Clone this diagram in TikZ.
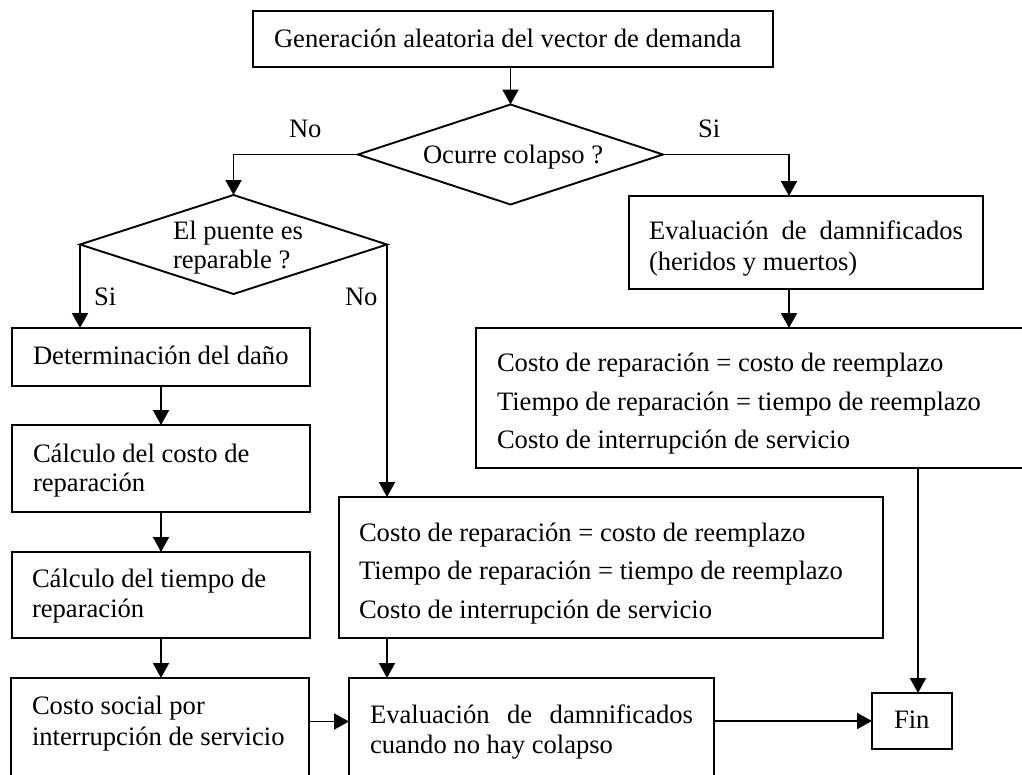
\documentclass[tikz,border=0pt]{standalone}
\usepackage{fontspec}
\setmainfont{Liberation Serif}
\usetikzlibrary{arrows.meta,shapes.geometric,fit,calc}
\begin{document}
\begin{tikzpicture}[x=1pt,y=-1pt,line width=1.9pt,
  box/.style={draw,rectangle,inner sep=0pt,outer sep=0pt},
  dia/.style={draw,diamond,inner sep=0pt,outer sep=0pt},
  txt/.style={inner sep=0pt,outer sep=0pt,anchor=base west,font=\fontsize{26.6}{32}\selectfont},
  arr/.style={-{Triangle[length=15pt,width=16pt]},line width=1.9pt}]
\useasboundingbox (0,0) rectangle (1022,774);
\clip (0,0) rectangle (1022,774);
\fill[white] (0,0) rectangle (1022,774);

% boxes
\node[box,fit={(253,11) (773,67)}] (gen) {};
\node[txt] (tgen) at (274,47) {Generación aleatoria del vector de demanda};

\node[dia,minimum width=305pt,minimum height=100pt] (col) at (510.5,154.5) {};
\node[txt] (tcol) at (423,163) {Ocurre colapso ?};
\node[txt] (lno1) at (289,137) {No};
\node[txt] (lsi1) at (698,137) {Si};

\node[dia,minimum width=307pt,minimum height=99pt] (rep) at (233.5,244.5) {};
\node[txt] (trep1) at (173,239) {El puente es};
\node[txt] (trep2) at (173,268) {reparable ?};
\node[txt] (lsi2) at (94,305) {Si};
\node[txt] (lno2) at (345,305) {No};

\node[box,fit={(629,196) (983,289)}] (dam) {};
\node[txt] (tdam1) at (649,239) {\makebox[314pt][s]{Evaluación de damnificados}};
\node[txt] (tdam2) at (649,270) {(heridos y muertos)};

\node[box,fit={(476,328) (1100,468)}] (rc) {};
\node[txt] (trc1) at (497,371) {Costo de reparación = costo de reemplazo};
\node[txt] (trc2) at (497,410) {Tiempo de reparación = tiempo de reemplazo};
\node[txt] (trc3) at (497,448) {Costo de interrupción de servicio};

\node[box,fit={(12,328) (310,386)}] (det) {};
\node[txt] (tdet) at (33,364) {Determinación del daño};

\node[box,fit={(12,425) (310,512)}] (cc) {};
\node[txt] (tcc1) at (33,462) {Cálculo del costo de};
\node[txt] (tcc2) at (33,491) {reparación};

\node[box,fit={(12,552) (310,638)}] (ct) {};
\node[txt] (tct1) at (32,587) {Cálculo del tiempo de};
\node[txt] (tct2) at (32,617) {reparación};

\node[box,fit={(11,678) (309,820)}] (cs) {};
\node[txt] (tcs1) at (32,714) {Costo social por};
\node[txt] (tcs2) at (32,745) {interrupción de servicio};

\node[box,fit={(339,497) (883,638)}] (m) {};
\node[txt] (tm1) at (359,541) {Costo de reparación = costo de reemplazo};
\node[txt] (tm2) at (359,579) {Tiempo de reparación = tiempo de reemplazo};
\node[txt] (tm3) at (359,618) {Costo de interrupción de servicio};

\node[box,fit={(349,678) (714,820)}] (ev) {};
\node[txt] (tev1) at (370,723) {\makebox[323pt][s]{Evaluación de damnificados}};
\node[txt] (tev2) at (370,753) {cuando no hay colapso};

\node[box,fit={(872,693) (952,749)}] (fin) {};
\node[txt] (tfin) at (894,728) {Fin};

% helper coordinates
\coordinate (xR) at (789,0);
\coordinate (xF) at (918,0);
\coordinate (yA) at (0,721.5);

% connectors
\draw[arr] (gen.south -| col.north) -- (col.north);
\draw[arr] (col.west) -| (rep.north);
\draw[arr] (col.east) -| (dam.north -| xR);
\draw[arr] (dam.south -| xR) -- (rc.north -| xR);
\draw[arr] (rep.west) -- (rep.west |- det.north);
\draw[arr] (rep.east) -- (rep.east |- m.north);
\draw[arr] (det.south) -- (cc.north);
\draw[arr] (cc.south) -- (ct.north);
\draw[arr] (ct.south) -- (ct.south |- cs.north);
\draw[arr] (cs.east |- yA) -- (ev.west |- yA);
\draw[arr] (m.south -| rep.east) -- (ev.north -| rep.east);
\draw[arr] (rc.south -| xF) -- (fin.north -| xF);
\draw[arr] (ev.east |- fin.west) -- (fin.west);
\end{tikzpicture}
\end{document}
